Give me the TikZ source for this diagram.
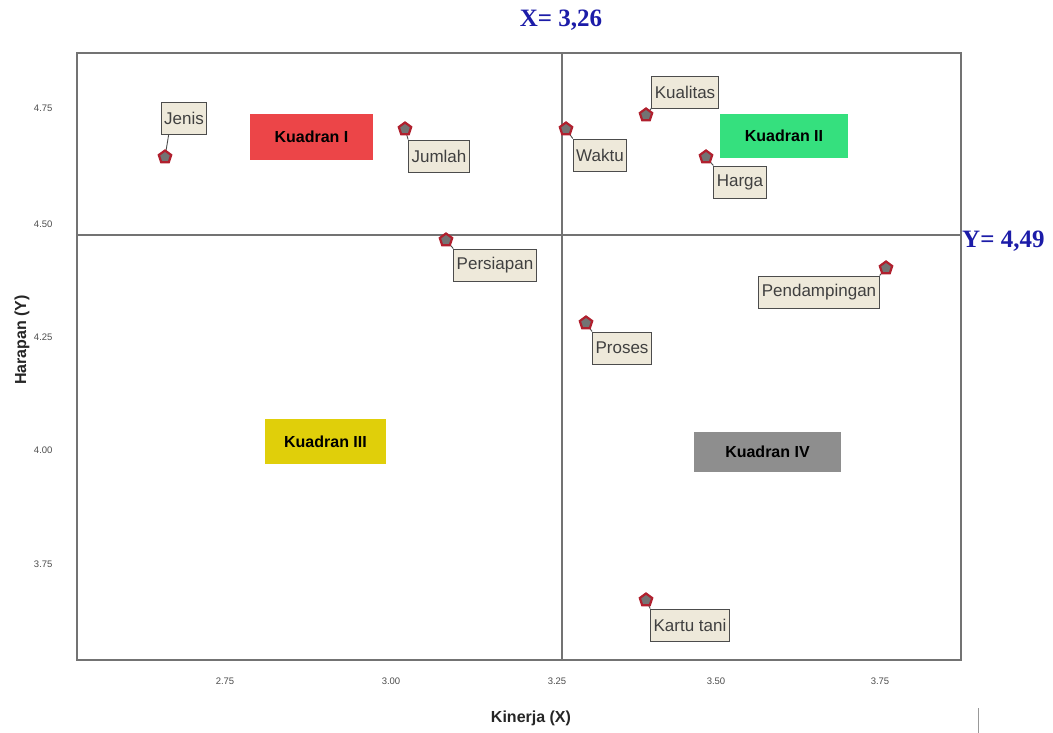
\documentclass[tikz,border=0pt]{standalone}
\usepackage{fontspec}
\setmainfont{Liberation Sans}
\newfontfamily\valfont{Liberation Serif}
\usetikzlibrary{shapes.geometric,calc}
\definecolor{kuadI}{HTML}{EC4548}
\definecolor{kuadII}{HTML}{35E07E}
\definecolor{kuadIII}{HTML}{E0CF0A}
\definecolor{kuadIV}{HTML}{8E8E8E}
\definecolor{labfill}{HTML}{EEE9DA}
\definecolor{markred}{HTML}{B0202E}
\definecolor{valblue}{HTML}{1C1CA8}
\tikzset{
 kuad/.style={minimum width=#1,minimum height=46pt,font=\fontsize{16}{16}\selectfont\bfseries},
 lab/.style={draw=black!70,fill=labfill,line width=.9pt,minimum height=32pt,inner xsep=3pt,
   font=\fontsize{17}{17}\selectfont\color{black!75}},
 attrmark/.style={regular polygon,regular polygon sides=5,draw=markred,fill=black!55,
   line width=2.2pt,inner sep=0pt,minimum size=13pt},
 ticklab/.style={font=\fontsize{9.5}{9.5}\selectfont\color{black!70}},
 val/.style={font=\fontsize{25}{25}\valfont\bfseries\color{valblue}},
 axtitle/.style={font=\fontsize{16}{16}\selectfont\bfseries\color{black!85}}
}
\begin{document}
\begin{tikzpicture}[x=1pt,y=-1pt]
 \useasboundingbox (0,0) rectangle (1053,733);
 % frame and cut lines
 \draw[black!55,line width=1.6pt] (77,53) rectangle (961,660);
 \draw[black!55,line width=1.4pt] (562,53)--(562,660);
 \draw[black!55,line width=1.4pt] (77,235)--(961,235);
 \node[val] (xval) at (561,20) {X= 3,26};
 \node[val,anchor=west,inner sep=1pt] (yval) at (961,241) {Y= 4,49};
 % ticks
 \foreach \t/\px in {2.75/225,3.00/391,3.25/557,3.50/716,3.75/880}{
  \node[ticklab] at (\px,681) {\t};
 }
 \foreach \t/\py in {4.75/108,4.50/224,4.25/337,4.00/450,3.75/564}{
  \node[ticklab,anchor=east] at (56,\py) {\t};
 }
 \node[axtitle] (xtitle) at (531,718) {Kinerja (X)};
 \node[axtitle,rotate=90] (ytitle) at (22,340) {Harapan (Y)};
 \draw[black!40,line width=.8pt] (978,708)--(978,733);
 % quadrants
 \node[kuad=123pt,fill=kuadI] (k1) at (311.5,137) {Kuadran I};
 \node[kuad=128pt,fill=kuadII,minimum height=44pt] (k2) at (784,136) {Kuadran II};
 \node[kuad=121pt,fill=kuadIII,minimum height=45pt] (k3) at (325.5,441.5) {Kuadran III};
 \node[kuad=147pt,fill=kuadIV,minimum height=40pt] (k4) at (767.5,452) {Kuadran IV};
 % attributes
 \foreach \nm/\mx/\my/\lx/\ly/\txt in {
   Jenis/165/157/184/118/Jenis,
   Jumlah/405/129/439/156/Jumlah,
   Persiapan/446/240/495/265/Persiapan,
   Waktu/566/129/600/155/Waktu,
   Kualitas/646/115/685/92/Kualitas,
   Harga/706/157/740/182/Harga,
   Pendampingan/886/268/819/292/Pendampingan,
   Proses/586/323/622/348/Proses,
   Kartu/646/600/690/625/Kartu tani}{
  \node[lab] (l\nm) at (\lx,\ly) {\txt};
  \coordinate (m\nm) at (\mx,\my);
 }
 \draw[black!70,line width=.9pt] (mJenis) -- ([xshift=8pt]lJenis.south west);
 \foreach \nm in {Jumlah,Persiapan,Waktu,Harga,Proses,Kartu}
  \draw[black!70,line width=.9pt] (m\nm) -- (l\nm.north west);
 \draw[black!70,line width=.9pt] (mKualitas) -- (lKualitas.south west);
 \draw[black!70,line width=.9pt] (mPendampingan) -- (lPendampingan.north east);
 \foreach \nm in {Jenis,Jumlah,Persiapan,Waktu,Kualitas,Harga,Pendampingan,Proses,Kartu}
  \node[attrmark] (p\nm) at (m\nm) {};
\end{tikzpicture}
\end{document}
